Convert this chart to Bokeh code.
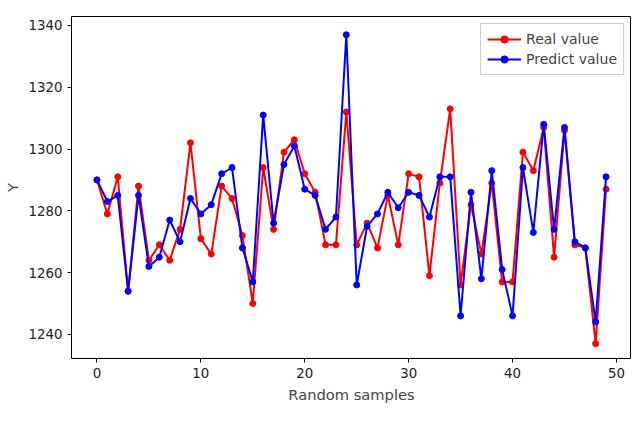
from bokeh.plotting import figure
from bokeh.models import Range1d, Legend, LegendItem
from bokeh.embed import file_html
from bokeh.resources import INLINE

samples = list(range(50))
real_value = [1290, 1279, 1291, 1254, 1288, 1264, 1269, 1264, 1274, 1302,
              1271, 1266, 1288, 1284, 1272, 1250, 1294, 1274, 1299, 1303,
              1292, 1286, 1269, 1269, 1312, 1269, 1276, 1268, 1285, 1269,
              1292, 1291, 1259, 1289, 1313, 1256, 1282, 1266, 1289, 1257,
              1257, 1299, 1293, 1307, 1265, 1306, 1269, 1268, 1237, 1287]
predict_value = [1290, 1283, 1285, 1254, 1285, 1262, 1265, 1277, 1270, 1284,
                 1279, 1282, 1292, 1294, 1268, 1257, 1311, 1276, 1295, 1301,
                 1287, 1285, 1274, 1278, 1337, 1256, 1275, 1279, 1286, 1281,
                 1286, 1285, 1278, 1291, 1291, 1246, 1286, 1258, 1293, 1261,
                 1246, 1294, 1273, 1308, 1274, 1307, 1270, 1268, 1244, 1291]

p = figure(width=631, height=405, output_backend="svg", toolbar_location=None, tools="",
           x_range=Range1d(-2.45, 51.45), y_range=Range1d(1232.2, 1342.9),
           min_border_left=24, min_border_right=0, min_border_top=16, min_border_bottom=10)
p.grid.visible = False
p.outline_line_color = "black"
p.outline_line_width = 1

font = "DejaVu Sans"
for ax in (p.xaxis, p.yaxis):
    ax.axis_label_text_font = font
    ax.axis_label_text_font_style = "normal"
    ax.axis_label_text_font_size = "11pt"
    ax.major_label_text_font = font
    ax.major_label_text_font_size = "10pt"
    ax.major_label_text_color = "#222222"
    ax.minor_tick_line_color = None
    ax.major_tick_out = 4
    ax.major_tick_in = 0
    ax.axis_line_color = None
p.xaxis.axis_label = "Random samples"
p.yaxis.axis_label = "Y"
p.xaxis.ticker = [0, 10, 20, 30, 40, 50]
p.yaxis.ticker = [1240, 1260, 1280, 1300, 1320, 1340]

r1 = p.line(samples, real_value, color="red", line_width=2)
c1 = p.scatter(samples, real_value, color="red", size=6)
r2 = p.line(samples, predict_value, color="blue", line_width=2)
c2 = p.scatter(samples, predict_value, color="blue", size=6)

legend = Legend(items=[LegendItem(label="Real value", renderers=[r1, c1]),
                       LegendItem(label="Predict value", renderers=[r2, c2])],
                location="top_right", label_text_font=font, label_text_font_size="10.5pt",
                border_line_color="#cccccc", border_line_alpha=1, glyph_width=34,
                spacing=2, padding=6, margin=7, label_height=18, glyph_height=18)
p.add_layout(legend)

open("out.html", "w").write(file_html(p, INLINE))
